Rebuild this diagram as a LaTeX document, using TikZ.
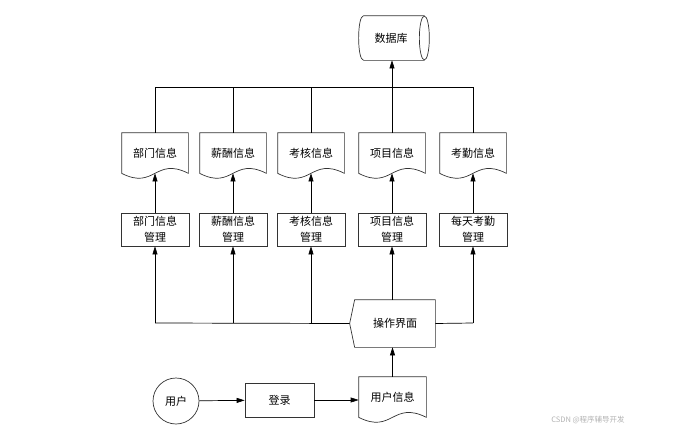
\documentclass[tikz,border=0pt]{standalone}
\usepackage{fontspec}
\setmainfont{Noto Sans CJK SC}
\usepackage{tikz}
\usetikzlibrary{arrows.meta,calc}

% document outline with a wavy bottom round a text node
\newcommand{\docshape}[1]{%
  \draw[black!80] (#1.south west) -- (#1.north west) -- (#1.north east) -- (#1.south east)
    .. controls ($(#1.south)+(0,-17)$) and ($(#1.south)+(0,17)$) .. (#1.south west) -- cycle;}

\begin{document}
\begin{tikzpicture}[x=1pt,y=-1pt,line width=0.7pt,
  every node/.style={font=\fontsize{11}{16}\selectfont,align=center},
  arr/.style={-{Triangle[length=8pt,width=5pt]}},
  doc/.style={minimum width=66pt,minimum height=40pt,inner sep=0pt},
  mgr/.style={draw=black!80,minimum width=68pt,minimum height=33pt,inner sep=0pt}]
  \useasboundingbox (0,0) rectangle (681,434);

  % database
  \node[minimum width=60pt,minimum height=44pt,inner sep=0pt] (db) at (394,38) {\hspace*{-6pt}数据库};
  \draw[black!80] (db.north east) -- (db.north west) .. controls +(-6.7,0) and ($(db.south west)+(-6.7,0)$) .. (db.south west) -- (db.south east);
  \draw[black!80] (db.east) ellipse (5 and 22);

  % five columns: record and its management box
  \foreach \x/\n/\d/\m in {155/1/部门信息/部门信息\\管理,233/2/薪酬信息/薪酬信息\\管理,311/3/考核信息/考核信息\\管理,392/4/项目信息/项目信息\\管理,473/5/考勤信息/每天考勤\\管理} {
    \node[doc] (d\n) at (\x,153) {\d};
    \docshape{d\n}
    \node[mgr] (m\n) at (\x,229.5) {\m};
    \draw[arr] (m\n) -- (d\n.south);
    \coordinate (t\n) at (\x,87);
    \coordinate (b\n) at (\x,323);
    \draw (d\n.north) -- (t\n);
  }
  \draw (t1) -- (t5);
  \draw[arr] (t4) -- (t4 |- db.south);

  % operation interface
  \node[minimum width=80pt,minimum height=47pt,inner sep=0pt] (ui) at (395,323.5) {操作界面};
  \draw[black!80] (ui.north west) -- (ui.north east) -- (ui.south east) -- (ui.south west)
    -- ($(ui.west)+(-5,0)$) -- cycle;
  \draw (ui.west) ++(-5,0) coordinate (uiw) -- (b1);
  \draw[arr] (b1) -- (m1);
  \draw[arr] (b2) -- (m2);
  \draw[arr] (b3) -- (m3);
  \draw[arr] (ui.north -| m4) -- (m4);
  \draw (ui.east) -- (b5);
  \draw[arr] (b5) -- (m5);

  % login row
  \node[circle,draw=black!80,minimum size=46pt,inner sep=0pt] (user) at (176,401) {用户};
  \node[mgr,minimum width=69pt,minimum height=34pt] (login) at (279.5,400) {登录};
  \node[doc,minimum width=67pt] (info) at (392.5,397) {用户信息};
  \docshape{info}
  \draw[arr] (user) -- (login);
  \draw[arr] (login) -- (login -| info.west);
  \draw[arr] (info.north) -- (info.north |- ui.south);

  \node[text=black!30,font=\fontsize{7.5}{9}\selectfont] (mark) at (588,420) {CSDN @程序辅导开发};
\end{tikzpicture}
\end{document}
